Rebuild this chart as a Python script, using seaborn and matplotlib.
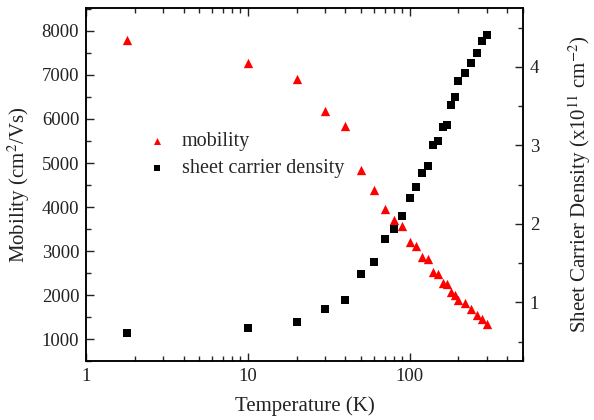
import numpy as np
import pandas as pd
import seaborn as sns
import matplotlib.pyplot as plt
from matplotlib.ticker import MultipleLocator, LogLocator, NullFormatter

# Data -----------------------------------------------------------------------
temp_mob = [1.8, 10, 20, 30, 40, 50, 60, 70, 80, 90, 100, 110, 120, 130, 140,
            150, 160, 170, 180, 190, 200, 220, 240, 260, 280, 300]
mobility = [7800, 7280, 6900, 6170, 5830, 4840, 4390, 3955, 3705, 3570, 3205,
            3110, 2865, 2820, 2525, 2470, 2275, 2250, 2070, 2000, 1885, 1820,
            1680, 1545, 1455, 1340]

temp_dens = [1.8, 10, 20, 30, 40, 50, 60, 70, 80, 90, 100, 110, 120, 130, 140,
             150, 160, 170, 180, 190, 200, 220, 240, 260, 280, 300]
density = [0.61, 0.675, 0.75, 0.92, 1.03, 1.36, 1.52, 1.81, 1.94, 2.10, 2.33,
           2.47, 2.65, 2.74, 3.00, 3.06, 3.24, 3.26, 3.52, 3.62, 3.82, 3.92,
           4.05, 4.18, 4.33, 4.41]

mob_df = pd.DataFrame({"T": temp_mob, "mobility": mobility})
dens_df = pd.DataFrame({"T": temp_dens, "density": density})

# Figure --------------------------------------------------------------------
sns.set_style("ticks")
plt.rcParams["font.family"] = ["Liberation Serif", "DejaVu Serif"]
plt.rcParams["mathtext.fontset"] = "stix"

fig, ax = plt.subplots(figsize=(5.94, 4.2), dpi=100)
fig.subplots_adjust(left=0.145, right=0.88, top=0.981, bottom=0.14)
ax2 = ax.twinx()

sns.scatterplot(data=mob_df, x="T", y="mobility", ax=ax, marker="^",
                color="#ff0000", s=45, linewidth=0, label="mobility",
                legend=False)
sns.scatterplot(data=dens_df, x="T", y="density", ax=ax2, marker="s",
                color="black", s=27, linewidth=0,
                label="sheet carrier density", legend=False)

ax.set_xscale("log")
ax.set_xlim(1, 500)
ax.set_ylim(500, 8520)
ax2.set_ylim(0.25, 4.75)

ax.xaxis.set_minor_locator(LogLocator(base=10, subs=np.arange(2, 10), numticks=10))
ax.xaxis.set_minor_formatter(NullFormatter())
ax.set_xticks([1, 10, 100])
ax.set_xticklabels(["1", "10", "100"])
ax.yaxis.set_major_locator(MultipleLocator(1000))
ax.yaxis.set_minor_locator(MultipleLocator(500))
ax2.yaxis.set_major_locator(MultipleLocator(1))
ax2.yaxis.set_minor_locator(MultipleLocator(0.5))

for a in (ax, ax2):
    a.tick_params(which="major", direction="in", length=6, width=1,
                  labelsize=13.5, colors="#222222", pad=5)
    a.tick_params(which="minor", direction="in", length=3.5, width=1)
    for sp in a.spines.values():
        sp.set_linewidth(1.1)
        sp.set_color("black")
ax.tick_params(which="both", top=True, right=False)
ax2.tick_params(which="both", left=False, right=True)

ax.set_xlabel("Temperature (K)", fontsize=15, color="#222222")
ax.set_ylabel("Mobility (cm$^2$/Vs)", fontsize=15, color="#222222")
ax2.set_ylabel("Sheet Carrier Density (x10$^{11}$ cm$^{-2}$)", fontsize=15,
               color="#222222")
ax.xaxis.set_label_coords(0.5, -0.10)
ax.yaxis.set_label_coords(-0.124, 0.5)
ax2.yaxis.set_label_coords(1.10, 0.5)

h1, l1 = ax.get_legend_handles_labels()
h2, l2 = ax2.get_legend_handles_labels()
ax.legend(h1 + h2, l1 + l2, loc="upper left", bbox_to_anchor=(0.074, 0.70),
          frameon=False, fontsize=14.5, handletextpad=0.25, labelspacing=0.4,
          markerscale=0.75)

fig.savefig("out.png", dpi=100)
